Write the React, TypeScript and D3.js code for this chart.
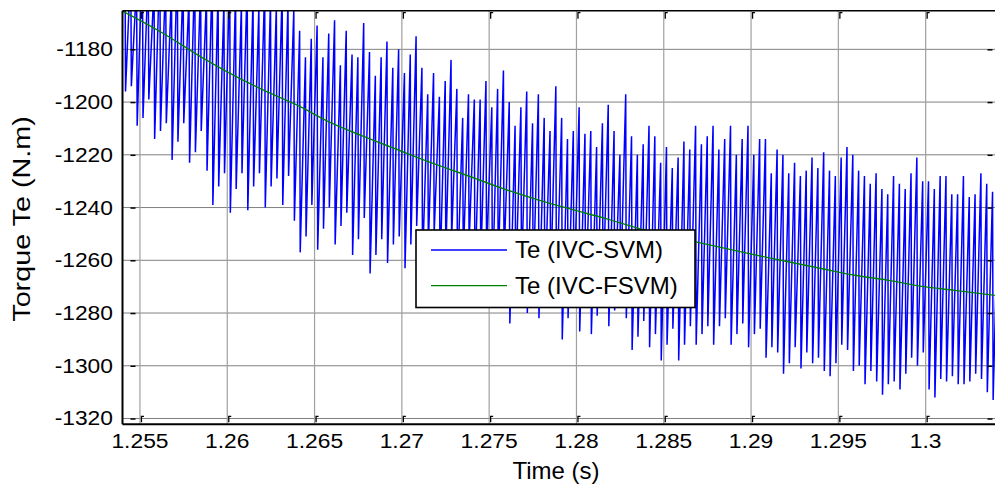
import React from "react";
import * as d3 from "d3";

// ---------- data ----------
const xTicks = [1.255, 1.26, 1.265, 1.27, 1.275, 1.28, 1.285, 1.29, 1.295, 1.3];
const xTickLabels = ["1.255", "1.26", "1.265", "1.27", "1.275", "1.28", "1.285", "1.29", "1.295", "1.3"];
const yTicks = [-1320, -1300, -1280, -1260, -1240, -1220, -1200, -1180];

// IVC-SVM torque: sawtooth, value just before each sharp drop (peaks) and right after it (troughs)
const svmStart = 1.25414;
const svmPeriod = 0.0003335;
const svmPeaks = [
  -1140, -1148, -1155, -1142, -1150, -1156, -1145, -1152, -1158, -1146,
  -1153, -1160, -1148, -1155, -1160, -1150, -1157, -1162, -1152, -1158,
  -1163, -1154, -1160, -1164, -1156, -1161, -1164, -1158, -1162, -1165,
  -1173, -1183, -1176, -1171, -1183, -1174, -1169, -1186, -1173, -1182,
  -1183, -1170, -1181, -1190, -1183, -1177, -1187, -1180, -1189, -1182,
  -1175, -1187, -1197, -1189, -1198, -1192, -1184, -1195, -1206, -1197,
  -1199, -1199, -1192, -1202, -1195, -1188, -1200, -1209, -1202, -1196,
  -1208, -1197, -1206, -1211, -1194, -1206, -1214, -1211, -1202, -1212,
  -1211, -1217, -1208, -1201, -1211, -1220, -1197, -1213, -1220, -1216,
  -1209, -1213, -1223, -1217, -1225, -1221, -1215, -1218, -1209, -1216,
  -1213, -1209, -1218, -1214, -1209, -1220, -1214, -1209, -1220, -1214,
  -1214, -1227, -1218, -1220, -1227, -1223, -1228, -1226, -1221, -1225,
  -1219, -1226, -1228, -1221, -1217, -1220, -1226, -1228, -1231, -1227,
  -1233, -1235, -1228, -1231, -1233, -1227, -1221, -1230, -1230, -1233,
  -1228, -1228, -1235, -1235, -1228, -1236, -1235, -1227, -1231, -1234,
  -1232,
];
const svmTroughs = [
  -1196, -1194, -1209, -1206, -1199, -1214, -1211, -1208, -1222, -1215,
  -1208, -1223, -1219, -1211, -1226, -1239, -1232, -1227, -1242, -1233,
  -1227, -1241, -1232, -1227, -1240, -1232, -1229, -1239, -1228, -1245,
  -1257, -1251, -1239, -1256, -1248, -1240, -1254, -1247, -1242, -1258,
  -1252, -1244, -1265, -1258, -1252, -1261, -1254, -1251, -1263, -1254,
  -1247, -1262, -1255, -1250, -1266, -1258, -1252, -1268, -1260, -1254,
  -1268, -1262, -1258, -1272, -1265, -1260, -1284, -1270, -1266, -1280,
  -1272, -1282, -1274, -1270, -1276, -1290, -1282, -1275, -1287, -1277,
  -1288, -1281, -1274, -1285, -1279, -1273, -1282, -1294, -1289, -1283,
  -1293, -1288, -1298, -1292, -1286, -1298, -1292, -1285, -1292, -1288,
  -1285, -1292, -1285, -1282, -1292, -1288, -1284, -1293, -1288, -1286,
  -1297, -1293, -1295, -1303, -1299, -1293, -1301, -1295, -1299, -1297,
  -1302, -1304, -1299, -1292, -1294, -1302, -1300, -1307, -1302, -1306,
  -1311, -1307, -1306, -1309, -1303, -1297, -1300, -1295, -1309, -1312,
  -1305, -1306, -1304, -1307, -1307, -1306, -1303, -1305, -1310, -1313,
];

// IVC-FSVM torque
const fsvmTimes = [
  1.254, 1.25632, 1.25825, 1.26016, 1.26205, 1.26398, 1.26583, 1.26776, 1.26966,
  1.27155, 1.27406, 1.27591, 1.27784, 1.27974, 1.28163, 1.28356, 1.28696,
  1.28982, 1.29171, 1.29429, 1.29595, 1.29788, 1.29978, 1.30167, 1.30396,
];
const fsvmValues = [
  -1165.5, -1173.9, -1181.9, -1189.1, -1195.4, -1201.1, -1207.5, -1212.9, -1217.8,
  -1222.7, -1228.6, -1233.1, -1237.2, -1240.7, -1244.1, -1247.9, -1253.2,
  -1257.4, -1260.0, -1263.5, -1265.7, -1267.6, -1269.9, -1271.4, -1273.3,
];

const legendLabels = ["Te (IVC-SVM)", "Te (IVC-FSVM)"];
const seriesColors = ["#0000ff", "#008000"];

// ---------- layout ----------
const W = 995;
const H = 490;
const PL = 122.5;
const PR = 995.5;
const PT = 10.7;
const PB = 424.3;
const FONT = "'Liberation Sans', Arial, Helvetica, sans-serif";

export default function App() {
  const x = d3.scaleLinear().domain([1.254, 1.304]).range([PL, PR]);
  const y = d3.scaleLinear().domain([-1322.2, -1165.35]).range([PB, PT]);

  const svmPts: [number, number][] = [];
  svmPts.push([svmStart - 0.9 * svmPeriod, -1185]);
  svmTroughs.forEach((tr, i) => {
    const t = svmStart + i * svmPeriod;
    svmPts.push([t, svmPeaks[i]]);
    svmPts.push([t + 0.1 * svmPeriod, tr]);
  });
  svmPts.push([svmStart + svmTroughs.length * svmPeriod, svmPeaks[svmTroughs.length]]);

  const line = d3
    .line<[number, number]>()
    .x((d) => x(d[0]))
    .y((d) => y(d[1]));

  const fsvmPts: [number, number][] = fsvmTimes.map((t, i) => [t, fsvmValues[i]]);
  const curve = d3
    .line<[number, number]>()
    .x((d) => x(d[0]))
    .y((d) => y(d[1]))
    .curve(d3.curveMonotoneX);

  const lx0 = 416, ly0 = 230, lx1 = 695, ly1 = 307.5;

  return (
    <svg
      width={W}
      height={H}
      style={{ position: "absolute", left: 0, top: 0, background: "#fff" }}
      fontFamily={FONT}
    >
      <defs>
        <clipPath id="plotclip">
          <rect x={PL} y={PT} width={PR - PL} height={PB - PT} />
        </clipPath>
      </defs>
      <rect x={0} y={0} width={W} height={H} fill="#fff" />
      {/* grid */}
      {yTicks.map((v) => (
        <line key={"gy" + v} x1={PL} x2={PR} y1={y(v)} y2={y(v)} stroke="#808080" strokeWidth={1} />
      ))}
      {xTicks.map((v) => (
        <line key={"gx" + v} x1={x(v)} x2={x(v)} y1={PT} y2={PB} stroke="#a0a0a0" strokeWidth={1.2} />
      ))}
      {/* data */}
      <g clipPath="url(#plotclip)">
        <path d={line(svmPts) || ""} fill="none" stroke={seriesColors[0]} strokeWidth={1.5} />
        <path d={curve(fsvmPts) || ""} fill="none" stroke={seriesColors[1]} strokeWidth={1.4} />
      </g>
      {/* ticks */}
      {yTicks.map((v) => (
        <g key={"ty" + v}>
          <line x1={PL + 8} x2={PL + 13} y1={y(v) + 0.5} y2={y(v) + 0.5} stroke="#000" strokeWidth={1.5} />
          <line x1={PR - 8} x2={PR - 3} y1={y(v) + 0.5} y2={y(v) + 0.5} stroke="#000" strokeWidth={1.5} />
        </g>
      ))}
      {xTicks.map((v) => (
        <g key={"tx" + v}>
          <path
            d={`M${x(v) + 4},${PT + 2}H${x(v) + 1.5}V${PT + 8}`}
            fill="none"
            stroke="#000"
            strokeWidth={1.3}
          />
          <path
            d={`M${x(v) + 4},${PB - 8}H${x(v) + 1.5}V${PB - 2}`}
            fill="none"
            stroke="#000"
            strokeWidth={1.3}
          />
        </g>
      ))}
      {/* axes box */}
      <line x1={PL} x2={PR} y1={PT} y2={PT} stroke="#000" strokeWidth={1.5} />
      <line x1={PL} x2={PR} y1={PB} y2={PB} stroke="#000" strokeWidth={2} />
      <line x1={PL} x2={PL} y1={PT} y2={PB} stroke="#000" strokeWidth={2} />
      {/* tick labels */}
      {yTicks.map((v) => (
        <text
          key={"ly" + v}
          transform={`translate(${113},${y(v) + 7}) scale(1.17,1)`}
          textAnchor="end"
          fontSize={19.5}
          fill="#000"
        >
          {String(v)}
        </text>
      ))}
      {xTicks.map((v, i) => (
        <text
          key={"lx" + v}
          transform={`translate(${x(v)},${448}) scale(1.17,1)`}
          textAnchor="middle"
          fontSize={19.5}
          fill="#000"
        >
          {xTickLabels[i]}
        </text>
      ))}
      {/* axis labels */}
      <text x={556} y={479} textAnchor="middle" fontSize={24} fill="#000">
        Time (s)
      </text>
      <text
        transform={`translate(${30},${219}) rotate(-90) scale(1.25,1)`}
        textAnchor="middle"
        fontSize={23}
        fill="#000"
      >
        Torque Te (N.m)
      </text>
      {/* legend */}
      <rect x={lx0} y={ly0} width={lx1 - lx0} height={ly1 - ly0} fill="#fff" stroke="#000" strokeWidth={1.6} />
      {legendLabels.map((lab, i) => {
        const ly = i === 0 ? 250 : 285.7;
        return (
          <g key={lab}>
            <line x1={431} x2={507} y1={ly} y2={ly} stroke={seriesColors[i]} strokeWidth={1.3} />
            <text x={515} y={ly + 8.3} fontSize={24} fill="#000">
              {lab}
            </text>
          </g>
        );
      })}
    </svg>
  );
}
